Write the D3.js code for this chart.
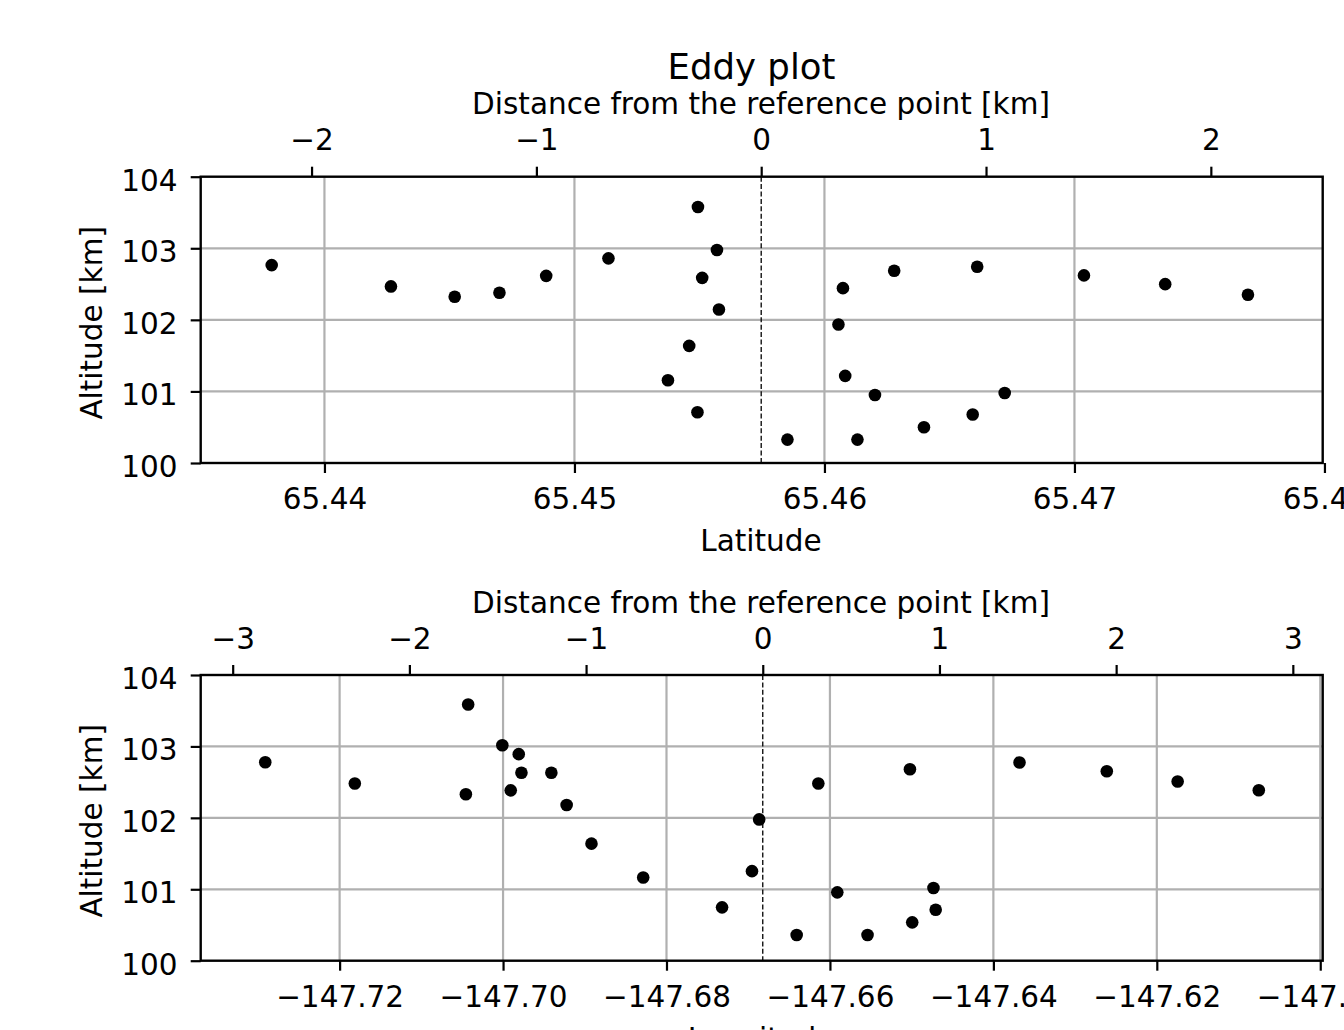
<!DOCTYPE html>
<html>
<head>
<meta charset="utf-8">
<script src="https://cdn.jsdelivr.net/npm/d3@7"></script>
<style>
body { margin: 0; background: #fff; overflow: hidden; }
svg { display: block; font-family: "DejaVu Sans", sans-serif; }
</style>
</head>
<body>
<div id="chart"></div>
<script>
// eddy points, latitude cut
var latitude = [65.43789, 65.44266, 65.44521, 65.44700, 65.44887, 65.45136, 65.45494, 65.45570, 65.45511,
	65.45578, 65.45459, 65.45374, 65.45492, 65.45852, 65.46132, 65.46398, 65.46593, 65.46721,
	65.46202, 65.46083, 65.46056, 65.46074, 65.46279, 65.46611, 65.47038, 65.47363, 65.47694];
var latAltitude = [102.765, 102.467, 102.322, 102.378, 102.615, 102.859, 103.576, 102.975, 102.587,
	102.145, 101.636, 101.157, 100.709, 100.327, 100.327, 100.499, 100.677, 100.979,
	100.951, 101.217, 101.936, 102.443, 102.685, 102.741, 102.621, 102.499, 102.350];

// eddy points, longitude cut
var longitude = [-147.72910, -147.71814, -147.70427, -147.70455, -147.70009, -147.69808, -147.69775, -147.69906, -147.69409,
	-147.69222, -147.68918, -147.68285, -147.66954, -147.66866, -147.67320, -147.66407, -147.66142, -147.65910,
	-147.65540, -147.64993, -147.64706, -147.64733, -147.65021, -147.63680, -147.62612, -147.61745, -147.60752];
var lonAltitude = [102.779, 102.481, 103.586, 102.331, 103.017, 102.892, 102.632, 102.385, 102.632,
	102.179, 101.639, 101.164, 101.254, 101.978, 100.747, 100.359, 102.481, 100.957,
	100.359, 100.537, 100.713, 101.017, 102.681, 102.775, 102.653, 102.509, 102.387];

// reference point and conversion to km
var refLat = 65.45747;
var refLon = -147.66822;
var kmPerDegLat = 111.2;
var kmPerDegLon = 46.25;

// ticks
var altTicks = [100, 101, 102, 103, 104];
var latTicks = [65.44, 65.45, 65.46, 65.47, 65.48];
var lonTicks = [-147.72, -147.70, -147.68, -147.66, -147.64, -147.62, -147.60];
var latKmTicks = [-2, -1, 0, 1, 2];
var lonKmTicks = [-3, -2, -1, 0, 1, 2, 3];

var width = 1344, height = 1030;
var fontSize = 29.5;
var left = 200.7, right = 1322.7;

var svg = d3.select('#chart').append('svg').attr('width', width).attr('height', height);

svg.append('text')
	.attr('x', 751.5).attr('y', 79)
	.attr('text-anchor', 'middle')
	.style('font-size', '35.5px')
	.text('Eddy plot');

function drawPanel(top, bottom, xs, ys, xDomain, xTicks, kmTicks, ref, kmPerDeg, xFormat, xLabel) {
	var g = svg.append('g');
	var x = d3.scaleLinear().domain(xDomain).range([left, right]);
	var y = d3.scaleLinear().domain([100, 104]).range([bottom, top]);
	var km = d3.scaleLinear()
		.domain(xDomain.map(function(d) { return (d - ref) * kmPerDeg; }))
		.range([left, right]);

	//grid
	g.selectAll('.gx').data(xTicks.filter(function(d) { return x(d) < right - 1; })).enter().append('line')
		.attr('x1', function(d) { return x(d); }).attr('x2', function(d) { return x(d); })
		.attr('y1', top).attr('y2', bottom)
		.attr('stroke', '#b0b0b0').attr('stroke-width', 2.2);
	g.selectAll('.gy').data(altTicks.slice(1, -1)).enter().append('line')
		.attr('x1', left).attr('x2', right)
		.attr('y1', function(d) { return y(d); }).attr('y2', function(d) { return y(d); })
		.attr('stroke', '#b0b0b0').attr('stroke-width', 2.2);

	//reference line
	g.append('line')
		.attr('x1', x(ref)).attr('x2', x(ref))
		.attr('y1', top).attr('y2', bottom)
		.attr('stroke', '#000').attr('stroke-width', 1.3)
		.attr('stroke-dasharray', '5,2.4');

	//points
	g.selectAll('circle').data(xs).enter().append('circle')
		.attr('cx', function(d) { return x(d); })
		.attr('cy', function(d, i) { return y(ys[i]); })
		.attr('r', 6.3)
		.attr('fill', '#000');

	//axes
	var bx = g.append('g').attr('transform', 'translate(0,' + bottom + ')')
		.call(d3.axisBottom(x).tickValues(xTicks).tickFormat(d3.format(xFormat)).tickSize(10).tickSizeOuter(0));
	bx.selectAll('text').attr('y', 46.3).attr('dy', null);

	var tx = g.append('g').attr('transform', 'translate(0,' + top + ')')
		.call(d3.axisTop(km).tickValues(kmTicks).tickFormat(d3.format('d')).tickSize(10).tickSizeOuter(0));
	tx.selectAll('text').attr('y', -26.5).attr('dy', null);

	var ly = g.append('g').attr('transform', 'translate(' + left + ',0)')
		.call(d3.axisLeft(y).tickValues(altTicks).tickFormat(d3.format('d')).tickSize(10).tickSizeOuter(0));
	ly.selectAll('text').attr('x', -23.2).attr('y', 13.5).attr('dy', null);

	g.selectAll('.domain').remove();
	g.selectAll('.tick line').attr('stroke', '#000').attr('stroke-width', 2.2);
	g.selectAll('.tick text').attr('fill', '#000').style('font-size', fontSize + 'px').style('font-family', '"DejaVu Sans", sans-serif');

	//spines
	g.append('rect')
		.attr('x', left).attr('y', top)
		.attr('width', right - left).attr('height', bottom - top)
		.attr('fill', 'none').attr('stroke', '#000').attr('stroke-width', 2.4);

	//labels
	g.append('text')
		.attr('x', 761).attr('y', bottom + 88)
		.attr('text-anchor', 'middle').style('font-size', fontSize + 'px')
		.text(xLabel);
	g.append('text')
		.attr('x', 761).attr('y', top - 62.5)
		.attr('text-anchor', 'middle').style('font-size', fontSize + 'px')
		.text('Distance from the reference point [km]');
	g.append('text')
		.attr('transform', 'translate(101.5,' + ((top + bottom) / 2 + 3) + ') rotate(-90)')
		.attr('text-anchor', 'middle').style('font-size', fontSize + 'px')
		.text('Altitude [km]');
}

drawPanel(176.7, 463, latitude, latAltitude, [65.43505, 65.47993], latTicks, latKmTicks,
	refLat, kmPerDegLat, '.2f', 'Latitude');
drawPanel(675, 960.7, longitude, lonAltitude, [-147.737, -147.5997], lonTicks, lonKmTicks,
	refLon, kmPerDegLon, '.2f', 'Longitude');
</script>
</body>
</html>
